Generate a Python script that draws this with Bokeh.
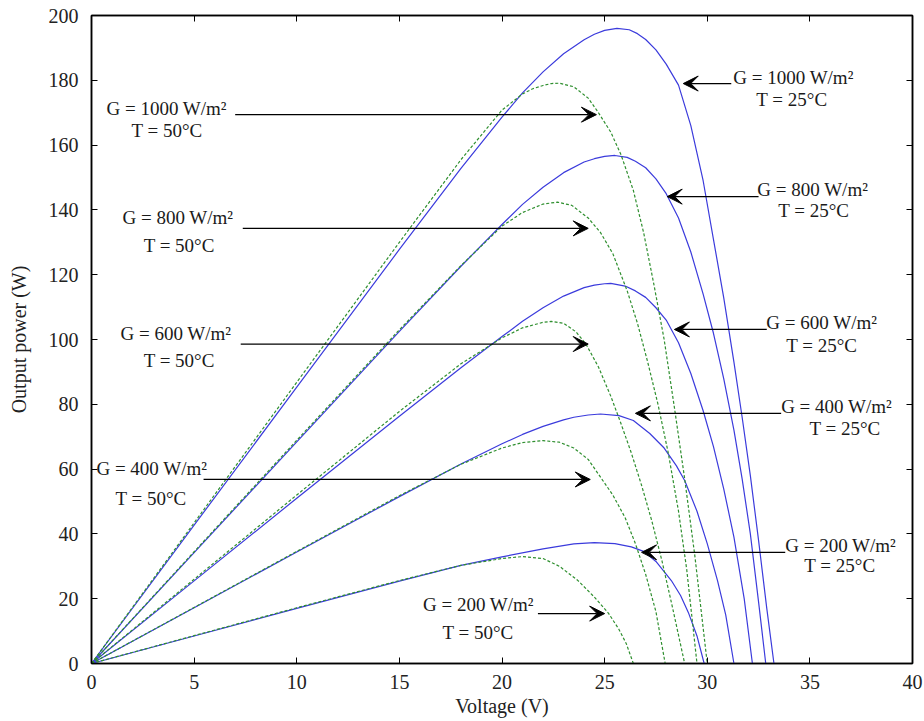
from bokeh.plotting import figure
from bokeh.models import (Range1d, SingleIntervalTicker, LinearAxis, Label,
                          Arrow, VeeHead)
from bokeh.embed import file_html
from bokeh.resources import INLINE

# ---------------- data ----------------
# T = 25 °C (blue, solid)
v_b1000 = [0, 5, 10, 15, 18, 20, 21, 22, 23, 24, 24.5, 25, 25.6, 26.2, 26.6, 27, 27.5, 28, 28.6, 29.2, 29.8, 30.3, 30.8, 31.3, 31.7, 32.1, 32.5, 32.9, 33.25, 40]
p_b1000 = [0, 42.7, 85.3, 127.8, 152.8, 168.6, 176.1, 182.6, 188.2, 192.5, 194.2, 195.4, 196.0, 195.6, 194.4, 192.6, 189.4, 185.0, 178.5, 166, 149, 131, 113, 93, 76, 58, 38, 17, 0, 0]

v_b800 = [0, 5, 10, 15, 18, 20, 21, 22, 23, 24, 24.5, 25, 25.5, 26.1, 26.5, 27, 27.5, 28, 28.6, 29.2, 29.8, 30.3, 30.8, 31.3, 31.7, 32.1, 32.5, 32.85, 40]
p_b800 = [0, 34.2, 68.4, 102.5, 122.6, 135.5, 141.7, 147, 151.5, 154.8, 155.8, 156.5, 156.8, 156.2, 155.0, 153, 149.6, 145, 137.5, 127, 114, 102, 88, 72, 57, 40, 19, 0, 0]

v_b600 = [0, 5, 10, 15, 18, 20, 21, 22, 23, 24, 24.5, 25, 25.3, 26, 26.5, 27, 27.5, 28, 28.6, 29.2, 29.8, 30.3, 30.8, 31.3, 31.8, 32.2, 40]
p_b600 = [0, 25.5, 51, 76.3, 91.3, 100.9, 105.6, 109.8, 113.4, 116, 116.8, 117.2, 117.3, 116.5, 115.0, 113, 109.8, 106, 99, 89.5, 78, 67, 54, 39, 20, 0, 0]

v_b400 = [0, 5, 10, 15, 18, 20, 21, 22, 23, 23.5, 24.2, 24.8, 25.7, 26.4, 27.2, 27.9, 28.5, 28.9, 29.5, 30.0, 30.5, 30.9, 31.3, 40]
p_b400 = [0, 17.2, 34.4, 51.5, 61.6, 67.8, 70.7, 73.2, 75.2, 76, 76.7, 77, 76.5, 75, 71, 66.5, 61, 56.5, 47, 37, 25.6, 15, 0, 0]

v_b200 = [0, 5, 10, 15, 18, 20, 22, 23.5, 24.5, 25.5, 26.3, 26.9, 27.5, 28.25, 28.7, 29.1, 29.5, 29.85, 40]
p_b200 = [0, 8.5, 17, 25.4, 30.3, 32.9, 35.4, 36.9, 37.3, 37, 36, 34.6, 31.5, 25.6, 21, 15.4, 8.5, 0, 0]

# T = 50 °C (green, dashed)
v_g1000 = [0, 5, 10, 15, 18, 20, 21, 21.5, 22, 22.4, 22.8, 23.5, 24.2, 24.7, 25.3, 25.8, 26.4, 26.9, 27.4, 27.9, 28.4, 28.9, 29.4, 30.0, 40]
p_g1000 = [0, 43.4, 86.8, 130, 155.5, 170.8, 175.8, 177.4, 178.4, 179.0, 179.1, 178, 174.5, 170, 164, 157, 146, 133, 117, 100, 79, 57, 33, 0, 0]

v_g800 = [0, 5, 10, 15, 18, 20, 21, 22, 22.7, 23.4, 24.2, 24.8, 25.4, 26.1, 26.6, 27.1, 27.6, 28.1, 28.6, 29.0, 29.5, 40]
p_g800 = [0, 34.5, 68.9, 103, 122.8, 135, 139.2, 141.8, 142.4, 141.4, 137.5, 133, 126.5, 115, 105, 93, 80, 65, 47, 29, 0, 0]

v_g600 = [0, 5, 10, 15, 18, 20, 21, 22, 22.4, 23, 23.6, 24.1, 24.7, 25.3, 25.8, 26.3, 26.8, 27.3, 27.8, 28.3, 28.9, 40]
p_g600 = [0, 26, 52, 77.8, 92.5, 100.5, 103.6, 105.3, 105.6, 105, 102.4, 98.5, 91.5, 82.5, 74, 65, 55, 44, 31.5, 17.5, 0, 0]

v_g400 = [0, 5, 10, 15, 18, 20, 21, 22, 22.8, 23.5, 24.2, 24.8, 25.4, 26.0, 26.5, 27.0, 27.5, 27.95, 40]
p_g400 = [0, 17.3, 34.6, 51.8, 61.5, 66.5, 68.2, 68.8, 68.3, 66.5, 63, 57.5, 52, 45, 37, 27.5, 16, 0, 0]

v_g200 = [0, 5, 10, 15, 18, 20, 21, 22, 22.8, 23.7, 24.5, 25.2, 25.7, 26.05, 26.4, 40]
p_g200 = [0, 8.6, 17.2, 25.6, 30.3, 32.4, 33, 32.4, 30, 25.6, 20.5, 15.4, 10.5, 6.2, 0, 0]

x_ticks_interval = 5
y_ticks_interval = 20

# annotation texts
left_g = ["G = 1000 W/m\u00b2", "G = 800 W/m\u00b2", "G = 600 W/m\u00b2", "G = 400 W/m\u00b2", "G = 200 W/m\u00b2"]
right_g = ["G = 1000 W/m\u00b2", "G = 800 W/m\u00b2", "G = 600 W/m\u00b2", "G = 400 W/m\u00b2", "G = 200 W/m\u00b2"]
t50 = "T = 50\u00b0C"
t25 = "T = 25\u00b0C"

# ---------------- layout / style ----------------
FONT = "Liberation Serif"
BLUE = "#3b3bdc"
GREEN = "#2f8f2f"

p = figure(width=924, height=721, output_backend="svg", toolbar_location=None,
           x_range=Range1d(0, 40), y_range=Range1d(0, 200),
           min_border_left=91, min_border_right=12, min_border_top=15, min_border_bottom=58)
p.background_fill_color = "white"
p.border_fill_color = "white"
p.outline_line_color = "black"
p.outline_line_width = 1.5
p.grid.visible = False

p.xaxis.ticker = SingleIntervalTicker(interval=x_ticks_interval)
p.yaxis.ticker = SingleIntervalTicker(interval=y_ticks_interval)
for ax in (p.xaxis, p.yaxis):
    ax.major_tick_in = 6
    ax.major_tick_out = 0
    ax.minor_tick_line_color = None
    ax.axis_line_width = 1.5
    ax.major_tick_line_width = 1
    ax.major_label_text_font = FONT
    ax.major_label_text_font_size = "20px"
    ax.major_label_text_color = "#222222"
    ax.axis_label_text_font = FONT
    ax.axis_label_text_font_size = "20px"
    ax.axis_label_text_font_style = "normal"
    ax.axis_label_text_color = "#222222"
p.xaxis.axis_label = "Voltage (V)"
p.yaxis.axis_label = "Output power (W)"
p.xaxis.major_label_standoff = 7
p.xaxis.axis_label_standoff = 3
p.yaxis.major_label_standoff = 9
p.yaxis.axis_label_standoff = 16

# box ticks on the top and right sides (no labels)
for loc, interval in (("above", x_ticks_interval), ("right", y_ticks_interval)):
    ax = LinearAxis(ticker=SingleIntervalTicker(interval=interval),
                    major_tick_in=6, major_tick_out=0,
                    minor_tick_line_color=None, axis_line_width=1.5,
                    major_label_text_color=None, major_label_text_font_size="1px",
                    major_label_standoff=0)
    p.add_layout(ax, loc)

# ---------------- curves ----------------
blue_sets = [(v_b1000, p_b1000), (v_b800, p_b800), (v_b600, p_b600), (v_b400, p_b400), (v_b200, p_b200)]
green_sets = [(v_g1000, p_g1000), (v_g800, p_g800), (v_g600, p_g600), (v_g400, p_g400), (v_g200, p_g200)]
for v, pw in blue_sets:
    p.line(x=v, y=pw, line_color=BLUE, line_width=1.2, line_join="round")
for v, pw in green_sets:
    p.line(x=v, y=pw, line_color=GREEN, line_width=1.2, line_dash="3 2", line_join="round")

# ---------------- annotations ----------------
left_pos = [((0.73, 171.3), (1.95, 164.5)),
            ((1.51, 137.7), (2.54, 129.0)),
            ((1.41, 101.9), (2.54, 93.5)),
            ((0.24, 60.2), (1.17, 50.9)),
            ((16.15, 18.2), (17.1, 9.6))]
right_pos = [((31.27, 180.9), (32.39, 174.1)),
             ((32.44, 146.3), (33.46, 139.8)),
             ((32.88, 105.2), (33.85, 98.1)),
             ((33.60, 79.3), (34.98, 72.5)),
             ((33.80, 36.4), (34.73, 30.2))]
left_arrows = [(7.0, 24.6, 169.4), (7.37, 24.2, 134.3), (7.27, 24.2, 98.6),
               (5.46, 24.3, 56.8), (21.75, 25.0, 15.4)]
right_arrows = [(31.17, 28.83, 179.0), (32.5, 28.05, 144.1), (32.9, 28.4, 103.1),
                (33.6, 26.5, 77.2), (33.8, 26.8, 34.3)]

def add_label(x, y, txt):
    p.add_layout(Label(x=x, y=y, text=txt, text_font=FONT, text_font_size="19px",
                       text_color="#1a1a1a", text_align="left", text_baseline="middle"))

for (gp, tp), txt in zip(left_pos, left_g):
    add_label(gp[0], gp[1], txt)
    add_label(tp[0], tp[1], t50)
for (gp, tp), txt in zip(right_pos, right_g):
    add_label(gp[0], gp[1], txt)
    add_label(tp[0], tp[1], t25)

for x0, x1, y in left_arrows + right_arrows:
    p.add_layout(Arrow(end=VeeHead(size=15, fill_color="black", line_color="black", line_width=1),
                       x_start=x0, y_start=y, x_end=x1, y_end=y,
                       line_color="black", line_width=1.3))

open("out.html", "w").write(file_html(p, INLINE))
